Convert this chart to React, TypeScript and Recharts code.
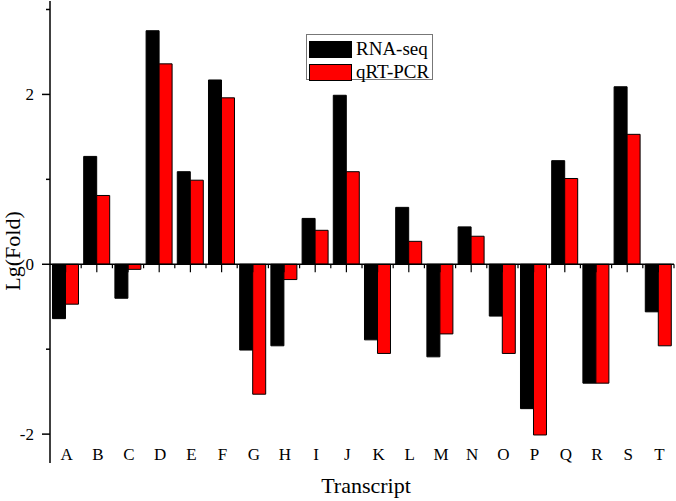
import { BarChart, Bar, XAxis, YAxis, ReferenceLine } from "recharts";

const categories = ["A", "B", "C", "D", "E", "F", "G", "H", "I", "J", "K", "L", "M", "N", "O", "P", "Q", "R", "S", "T"];
const rnaSeq = [-0.64, 1.27, -0.4, 2.75, 1.09, 2.17, -1.01, -0.96, 0.54, 1.99, -0.89, 0.67, -1.09, 0.44, -0.61, -1.7, 1.22, -1.4, 2.09, -0.56];
const qrtPcr = [-0.47, 0.81, -0.06, 2.36, 0.99, 1.96, -1.53, -0.18, 0.4, 1.09, -1.05, 0.27, -0.82, 0.33, -1.05, -2.01, 1.01, -1.4, 1.53, -0.96];
const yTicks = [-2, -1, 0, 1, 2, 3];
const seriesNames = ["RNA-seq", "qRT-PCR"];
const seriesColors = ["#000000", "#ff0000"];

const data = categories.map((name, i) => ({ name, rna: rnaSeq[i], qpcr: qrtPcr[i] }));

const FONT = "'Liberation Serif', 'Times New Roman', serif";

function YTick({ x, y, payload }: any) {
  const major = payload.value % 2 === 0;
  return (
    <g>
      <line x1={x - (major ? 8 : 4)} x2={x} y1={y} y2={y} stroke="#000" strokeWidth={1.5} />
      {major && (
        <text x={x - 16} y={y + 6} textAnchor="end" fontSize={17} fontFamily={FONT} fill="#000">
          {payload.value}
        </text>
      )}
    </g>
  );
}

function XTick({ x, y, payload }: any) {
  return (
    <text x={x + 1} y={y - 3} textAnchor="middle" fontSize={17} fontFamily={FONT} fill="#000">
      {payload.value}
    </text>
  );
}

// zero line with tick marks at category centres (long) and borders (short)
function ZeroAxis(props: any) {
  const { x1, y1, x2 } = props;
  const step = (x2 - x1) / categories.length;
  const marks = [];
  for (let i = 1; i <= categories.length; i++) {
    marks.push(<line key={"b" + i} x1={x1 + i * step} x2={x1 + i * step} y1={y1} y2={y1 + 4} stroke="#000" strokeWidth={1.2} />);
    marks.push(<line key={"c" + i} x1={x1 + (i - 0.5) * step} x2={x1 + (i - 0.5) * step} y1={y1} y2={y1 + 8} stroke="#000" strokeWidth={1.2} />);
  }
  return (
    <g>
      <line x1={x1} x2={x2} y1={y1} y2={y1} stroke="#000" strokeWidth={1.5} />
      {marks}
    </g>
  );
}

function YLabel({ viewBox }: any) {
  const cy = viewBox.y + viewBox.height / 2 + 19;
  return (
    <text x={20} y={cy} transform={`rotate(-90, 20, ${cy})`} textAnchor="middle" fontSize={22} fontFamily={FONT} fill="#000">
      Lg(Fold)
    </text>
  );
}

function XLabel({ viewBox }: any) {
  return (
    <text x={viewBox.x + viewBox.width / 2 + 4} y={493} textAnchor="middle" fontSize={22} fontFamily={FONT} fill="#000">
      Transcript
    </text>
  );
}

function LegendBox() {
  return (
    <div style={{ position: "absolute", left: 306, top: 34, width: 127, height: 46, border: "1px solid #777", background: "#fff", boxSizing: "border-box", padding: "3px 0 0 2px" }}>
      {seriesNames.map((label, i) => (
        <div key={label} style={{ display: "flex", alignItems: "center", height: 22, marginBottom: 1 }}>
          <div style={{ width: 41, height: 15, background: seriesColors[i], border: "1px solid #000", marginRight: 4, flexShrink: 0 }} />
          <span style={{ fontSize: 19, fontFamily: FONT, color: "#000", lineHeight: "20px", whiteSpace: "nowrap" }}>{label}</span>
        </div>
      ))}
    </div>
  );
}

export default function App() {
  return (
    <div style={{ position: "absolute", left: 0, top: 0, width: 676, height: 501, background: "#fff" }}>
      <BarChart width={676} height={501} data={data} margin={{ top: 1, right: 2, bottom: 0, left: 0 }} barCategoryGap="8%" barGap={0}>
        <XAxis dataKey="name" height={38} axisLine={false} tickLine={false} tickSize={0} tickMargin={0} interval={0} tick={<XTick />} label={<XLabel />} />
        <YAxis
          width={50}
          domain={[-2.34, 3.1]}
          ticks={yTicks}
          allowDataOverflow
          axisLine={{ stroke: "#000", strokeWidth: 1.5 }}
          tickLine={false}
          tickSize={0}
          tickMargin={0}
          interval={0}
          tick={<YTick />}
          label={<YLabel />}
        />
        <Bar dataKey="rna" name={seriesNames[0]} fill={seriesColors[0]} stroke="#000" strokeWidth={1} isAnimationActive={false} />
        <Bar dataKey="qpcr" name={seriesNames[1]} fill={seriesColors[1]} stroke="#000" strokeWidth={1} isAnimationActive={false} />
        <ReferenceLine y={0} shape={<ZeroAxis />} />
      </BarChart>
      <LegendBox />
    </div>
  );
}
